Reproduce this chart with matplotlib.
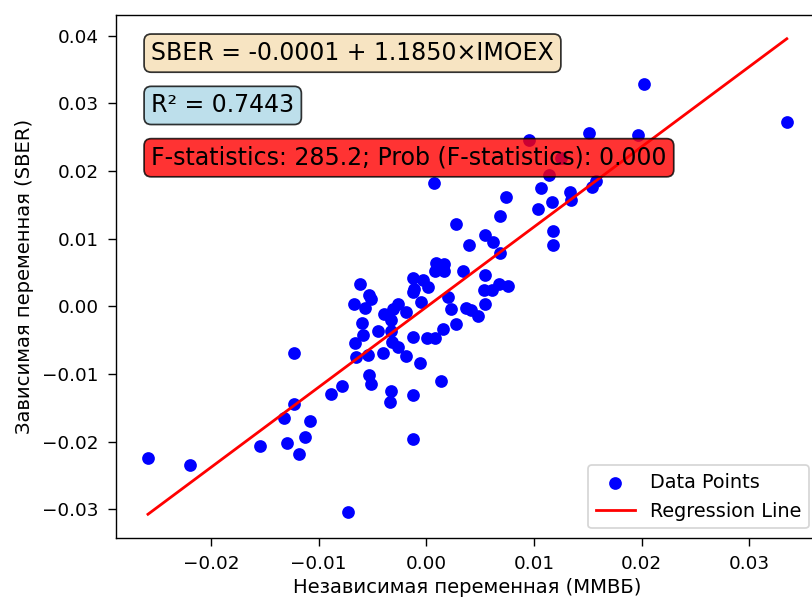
import numpy as np
from matplotlib import pyplot as plt

# daily returns
imoex = np.array([
    -0.02586, -0.02196, -0.01546, -0.01323, -0.01295, -0.01184, -0.01128, -0.01082,
    -0.01230, -0.01230, -0.00887, -0.00785, -0.00729, -0.00534, -0.00515, -0.00330,
    -0.00339, -0.00125, -0.00125, 0.00135, -0.00060, -0.00190, -0.00655, -0.00543,
    -0.00404, -0.00664, -0.00590, -0.00599, -0.00450, -0.00330, -0.00320, -0.00265,
    -0.00125, 0.00005, 0.00079, 0.00153, -0.00673, -0.00534, -0.00571, -0.00395,
    -0.00311, -0.00265, -0.00190, -0.00330, -0.00125, -0.00051, 0.00014, -0.00617,
    0.00200, 0.00227, 0.00274, -0.00515, -0.00125, -0.00032, -0.00116, 0.00088,
    0.00162, 0.00079, 0.00162, 0.00339, 0.00543, 0.00534, 0.00608, 0.00673,
    0.00757, 0.00367, 0.00413, 0.00478, 0.00543, 0.00070, 0.00274, 0.00395,
    0.00543, 0.00617, 0.00682, 0.00682, 0.00738, 0.00952, 0.01249, 0.01137,
    0.01063, 0.01332, 0.01342, 0.01165, 0.01035, 0.01537, 0.01574, 0.01175,
    0.01175, 0.01509, 0.01964, 0.02019, 0.03347,
])
sber = np.array([
    -0.02247, -0.02349, -0.02070, -0.01645, -0.02026, -0.02188, -0.01938, -0.01689,
    -0.00690, -0.01439, -0.01292, -0.01175, -0.03040, -0.01013, -0.01145, -0.01248,
    -0.01410, -0.01968, -0.01307, -0.01101, -0.00837, -0.00734, -0.00749, -0.00720,
    -0.00690, -0.00543, -0.00426, -0.00250, -0.00367, -0.00367, -0.00529, -0.00602,
    -0.00455, -0.00470, -0.00470, -0.00338, 0.00029, 0.00162, -0.00029, -0.00117,
    -0.00044, 0.00029, -0.00088, -0.00206, 0.00206, 0.00059, 0.00279, 0.00323,
    0.00132, -0.00044, -0.00264, 0.00103, 0.00426, 0.00382, 0.00250, 0.00646,
    0.00631, 0.00529, 0.00529, 0.00529, 0.00470, 0.00235, 0.00235, 0.00323,
    0.00294, -0.00029, -0.00059, -0.00147, 0.00029, 0.01821, 0.01219, 0.00910,
    0.01057, 0.00954, 0.00793, 0.01336, 0.01615, 0.02452, 0.02188, 0.01938,
    0.01747, 0.01689, 0.01571, 0.01542, 0.01439, 0.01762, 0.01850, 0.01116,
    0.00910, 0.02570, 0.02540, 0.03289, 0.02731,
])

intercept = -0.0001
slope = 1.1850
r2 = 0.7443
f_stat = 285.2
f_prob = 0.000

fig = plt.figure(figsize=(812 / 125, 599 / 125), dpi=125)
ax = fig.add_axes([0.1429, 0.1018, 0.8654, 0.8732])

ax.scatter(imoex, sber, color='blue', s=40, label='Data Points')
line_x = np.array([imoex.min(), imoex.max()])
ax.plot(line_x, intercept + slope * line_x, color='red', lw=1.6, label='Regression Line')

ax.set_xlabel('Независимая переменная (ММВБ)', fontsize=11.3, labelpad=3)
ax.set_ylabel('Зависимая переменная (SBER)', fontsize=11.3, labelpad=5)
ax.tick_params(labelsize=10.6, length=4.6, pad=5.3)

box_font = 13.6
ax.text(0.05, 0.95, f'SBER = {intercept:.4f} + {slope:.4f}×IMOEX', transform=ax.transAxes,
        fontsize=box_font, va='top', bbox=dict(boxstyle='round', facecolor='wheat', alpha=0.8))
ax.text(0.05, 0.85, f'R² = {r2:.4f}', transform=ax.transAxes,
        fontsize=box_font, va='top', bbox=dict(boxstyle='round', facecolor='lightblue', alpha=0.8))
ax.text(0.05, 0.75, f'F-statistics: {f_stat:.1f}; Prob (F-statistics): {f_prob:.3f}',
        transform=ax.transAxes, fontsize=box_font, va='top',
        bbox=dict(boxstyle='round', facecolor='red', alpha=0.8))

ax.legend(loc='lower right', fontsize=11.1)
fig.savefig('out.png', dpi=125)
